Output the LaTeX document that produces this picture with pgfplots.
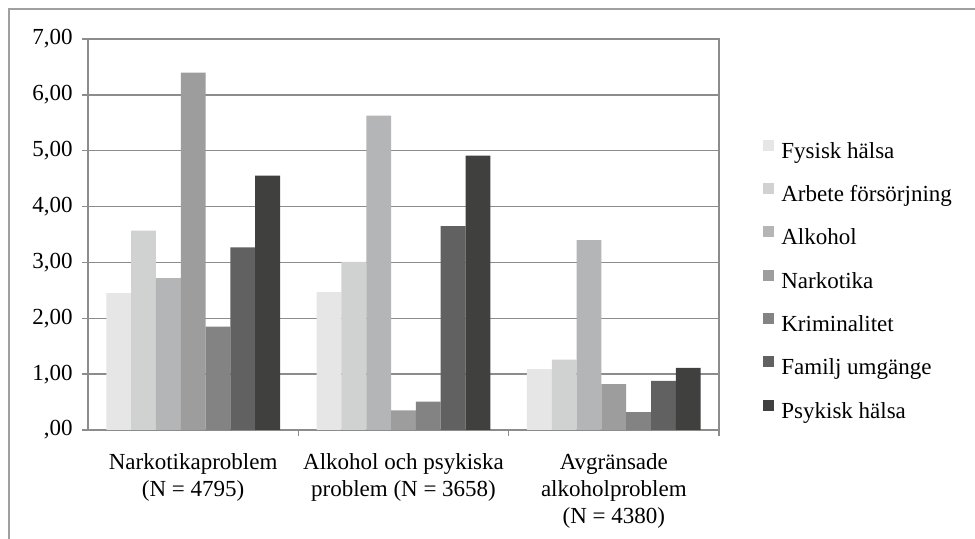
\documentclass[border=0pt]{standalone}
\usepackage{pgfplots}
\pgfplotsset{compat=1.18}
\usepackage{fontspec}
\setmainfont{Liberation Serif}
\definecolor{c1}{HTML}{E6E6E6}
\definecolor{c2}{HTML}{D0D1D1}
\definecolor{c3}{HTML}{B4B5B6}
\definecolor{c4}{HTML}{9D9D9D}
\definecolor{c5}{HTML}{838383}
\definecolor{c6}{HTML}{616161}
\definecolor{c7}{HTML}{40403F}
\definecolor{axgray}{HTML}{8C8C8C}
\definecolor{brd}{HTML}{A0A0A0}
\begin{document}
\begin{tikzpicture}
\useasboundingbox (0,0) rectangle (487.5pt,269.5pt);
\clip (0,0) rectangle (487.5pt,269.5pt);
\fill[white] (0,0) rectangle (487.5pt,269.5pt);
\draw[brd, line width=0.8pt] (4.5pt,-5pt) rectangle (495pt,265pt);
\begin{axis}[
  at={(44pt,54.5pt)}, anchor=south west,
  scale only axis, width=315.5pt, height=195.5pt,
  ybar, bar width=0.118,
  xmin=-0.5, xmax=2.5, ymin=0, ymax=7,
  xtick={0,1,2},
  xticklabels={{Narkotikaproblem\\(N = 4795)},{Alkohol och psykiska\\problem (N = 3658)},{Avgränsade\\alkoholproblem\\(N = 4380)}},
  minor xtick={0.5,1.5,2.5},
  ytick={0,1,2,3,4,5,6,7},
  yticklabels={{,00},{1,00},{2,00},{3,00},{4,00},{5,00},{6,00},{7,00}},
  tick pos=left,
  tick align=outside, major tick length=3pt, minor tick length=3pt,
  major x tick style={draw=none},
  tick style={axgray, line width=0.75pt},
  ymajorgrids, grid style={axgray, line width=0.75pt},
  axis line style={axgray, line width=0.75pt},
  xticklabel style={align=center, inner sep=0pt, yshift=-8.5pt, font=\fontsize{11.5}{13.5}\selectfont},
  yticklabel style={inner sep=0pt, xshift=-4.5pt, font=\fontsize{11.5}{13.5}\selectfont},
  legend cell align=left,
  legend style={at={(1.0697,0.743)}, anchor=north west, draw=none, fill=none, inner sep=0pt,
    row sep=9.4pt, column sep=3.5pt,
    nodes={inner sep=0pt, text height=8pt, text depth=3pt},
    font=\fontsize{11.5}{13.5}\selectfont},
  legend image code/.code={\fill[#1] (0pt,1.25pt) rectangle (5.5pt,6.75pt);},
]
\addplot[fill=c1, draw=none, bar shift=-0.354] coordinates {(0,2.45) (1,2.47) (2,1.09)};
\addplot[fill=c2, draw=none, bar shift=-0.236] coordinates {(0,3.57) (1,3.01) (2,1.26)};
\addplot[fill=c3, draw=none, bar shift=-0.118] coordinates {(0,2.72) (1,5.63) (2,3.40)};
\addplot[fill=c4, draw=none, bar shift=0] coordinates {(0,6.40) (1,0.35) (2,0.82)};
\addplot[fill=c5, draw=none, bar shift=0.118] coordinates {(0,1.85) (1,0.51) (2,0.32)};
\addplot[fill=c6, draw=none, bar shift=0.236] coordinates {(0,3.27) (1,3.65) (2,0.88)};
\addplot[fill=c7, draw=none, bar shift=0.354] coordinates {(0,4.555) (1,4.91) (2,1.11)};
\legend{Fysisk hälsa,Arbete försörjning,Alkohol,Narkotika,Kriminalitet,Familj umgänge,Psykisk hälsa}
\end{axis}
\end{tikzpicture}
\end{document}
